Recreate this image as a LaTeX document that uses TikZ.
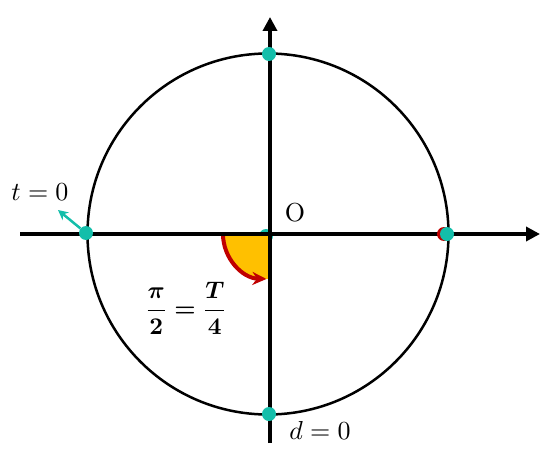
\documentclass[tikz,border=0pt]{standalone}
\usepackage{amsmath,bm}
\usetikzlibrary{arrows.meta}
\definecolor{teal1}{RGB}{20,190,170}
\definecolor{red1}{RGB}{192,0,0}
\definecolor{orange1}{RGB}{255,192,0}
\begin{document}
\begin{tikzpicture}[x=1pt,y=1pt,
  dot/.style={circle,fill=teal1,inner sep=0pt,minimum size=14pt},
  reddot/.style={circle,fill=red1,inner sep=0pt,minimum size=14pt},
  axis/.style={line width=4.5pt,-{Triangle[length=14pt,width=14pt]}},
  lbl/.style={inner sep=0pt,font=\fontsize{10}{12}\selectfont,scale=2.6,transform shape}]
\useasboundingbox (0,0) rectangle (545,456);
\coordinate (C) at (268,222);
% center dot behind everything
\node[dot] (c0) at (266,220) {};
% orange sector
\fill[orange1] (C) -- ++(180:45) arc[start angle=180,end angle=270,radius=45] -- cycle;
% circle
\draw[line width=2.5pt] (C) circle[radius=180.5];
% red arc
\draw[red1,line width=4pt,-{Stealth[length=14pt,width=13pt]}] ([xshift=-45pt]C) arc[start angle=180,end angle=268,radius=45];
% axes
\coordinate (xl) at (20,222);
\coordinate (xr) at (540,222);
\coordinate (yb) at (270,13);
\coordinate (yt) at (270,439);
\draw[axis] (xl) -- (xr);
\draw[axis] (yb) -- (yt);
% dots
\node[reddot] (r) at (444,222) {};
\node[dot] (e) at (447,222) {};
\node[dot] (w) at (86,223) {};
\node[dot] (n) at (269,402) {};
\node[dot] (s) at (269,42) {};
\coordinate (tip) at (58,246);
\draw[teal1,line width=2.5pt,-{Stealth[length=10pt,width=10pt]}] (w) -- (tip);
% labels
\node[lbl] (t0) at (40,264) {$t=0$};
\node[lbl] (O) at (295,243) {O};
\node[lbl] (d0) at (320,26) {$d=0$};
\node[lbl,scale=0.92] (fr) at (186,148) {$\boldsymbol{\dfrac{\pi}{2}=\dfrac{T}{4}}$};
\end{tikzpicture}
\end{document}
